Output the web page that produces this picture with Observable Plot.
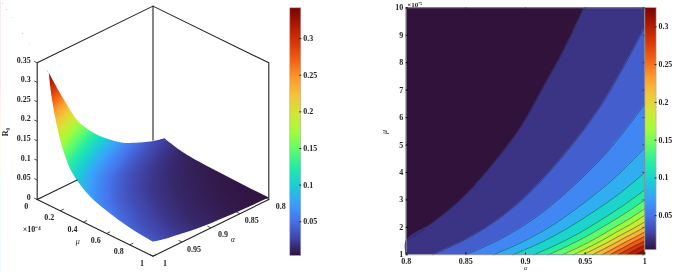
<!DOCTYPE html>
<html>
<head>
<meta charset="utf-8">
<script src="https://cdn.jsdelivr.net/npm/d3@7"></script>
<script src="https://cdn.jsdelivr.net/npm/@observablehq/plot@0.6"></script>
<style>
html,body{margin:0;padding:0;background:#fff}
#chart{position:relative;width:685px;height:272px;overflow:hidden;filter:blur(0.35px)}
</style>
</head>
<body>
<div id="chart"></div>
<script>
// ---------- colours ----------
const turboStops = ["#30123b","#4145ab","#4675ed","#39a2fc","#1bcfd4","#24eca6","#61fc6c","#a4fc3b","#d1e834","#f3c63a","#fe9b2d","#f36315","#d93806","#b11901","#7a0403"];

// ---------- left panel: surface ----------
const surfaceAlpha = [0.8, 0.825, 0.85, 0.875, 0.9, 0.925, 0.95, 0.975, 1];
const surfaceMu = [0.1, 0.125, 0.15, 0.175, 0.2, 0.25, 0.3, 0.4, 0.5, 0.6, 0.7, 0.8, 0.9, 1];
const surfaceR = [
  [.0265,.036,.051,.07,.098,.133,.18,.255,.339],
  [.0232,.0311,.0434,.0588,.0818,.110,.150,.21,.28],
  [.021,.028,.038,.051,.071,.095,.129,.18,.24],
  [.019,.0246,.0335,.0449,.0615,.0828,.112,.155,.207],
  [.017,.022,.030,.040,.054,.072,.098,.135,.18],
  [.014,.018,.024,.032,.042,.057,.076,.105,.14],
  [.012,.015,.020,.026,.034,.046,.062,.085,.113],
  [.0094,.0117,.0153,.0199,.0262,.0352,.0471,.0638,.085],
  [.008,.0098,.0126,.0163,.0211,.0284,.0379,.051,.068],
  [.007,.0086,.011,.0141,.0182,.0244,.0325,.0435,.058],
  [.0063,.0076,.0096,.0123,.0158,.0212,.0282,.0375,.05],
  [.0056,.0068,.0086,.0109,.0139,.0187,.0249,.033,.044],
  [.0052,.0063,.0079,.01,.0128,.0171,.0227,.03,.04],
  [.005,.006,.0075,.0095,.012,.016,.0215,.028,.0375]
];
const zTicks = [0, .05, .1, .15, .2, .25, .3, .35];
const muTicks3d = [0, .2, .4, .6, .8, 1];
const alphaTicks3d = [.8, .85, .9, .95, 1];
const zMax = 0.35;
const leftColorDomain = [.004, .342];
const colorbarTicks = [.05, .1, .15, .2, .25, .3];

// ---------- right panel: contour lines (alpha, mu x 1e-5) ----------
const contours = {
  0.005: [[.8,1,],[.8,10]],
  0.02: [[.8,1],[.8,1.5],[.823,2.19],[.848,3.1],[.873,4.32],[.896,5.65],[.915,7.11],[.932,8.45],[.949,10]],
  0.04: [[.822,1],[.8576,1.75],[.8932,2.85],[.9288,4.46],[.9644,6.51],[1,9.3]],
  0.06: [[.85,1],[.88,1.6],[.91,2.41],[.94,3.5],[.97,4.82],[1,6.5]],
  0.08: [[.873,1],[.8984,1.49],[.9238,2.11],[.9492,2.9],[.9746,3.8],[1,4.9]],
  0.10: [[.889,1],[.9112,1.41],[.9334,1.92],[.9556,2.53],[.9778,3.2],[1,4]],
  0.12: [[.907,1],[.9256,1.36],[.9442,1.77],[.9628,2.26],[.9814,2.78],[1,3.37]],
  0.14: [[.919,1],[.9352,1.32],[.9514,1.68],[.9676,2.09],[.9838,2.52],[1,3]],
  0.16: [[.931,1],[.9448,1.28],[.9586,1.59],[.9724,1.94],[.9862,2.29],[1,2.68]],
  0.18: [[.94,1],[.952,1.25],[.964,1.52],[.976,1.82],[.988,2.11],[1,2.44]],
  0.20: [[.948,1],[.9584,1.22],[.9688,1.45],[.9792,1.7],[.9896,1.94],[1,2.2]],
  0.22: [[.956,1],[.9648,1.19],[.9736,1.39],[.9824,1.6],[.9912,1.8],[1,2.01]],
  0.24: [[.964,1],[.9712,1.16],[.9784,1.33],[.9856,1.5],[.9928,1.66],[1,1.83]],
  0.26: [[.971,1],[.9768,1.14],[.9826,1.27],[.9884,1.41],[.9942,1.54],[1,1.67]],
  0.28: [[.978,1],[.9824,1.11],[.9868,1.21],[.9912,1.31],[.9956,1.4],[1,1.5]],
  0.30: [[.985,1],[.988,1.07],[.991,1.15],[.994,1.22],[.997,1.28],[1,1.34]],
  0.32: [[.993,1],[.9944,1.04],[.9958,1.07],[.9972,1.1],[.9986,1.12],[1,1.15]]
};
const xTicks2d = [.8, .85, .9, .95, 1];
const yTicks2d = [1, 2, 3, 4, 5, 6, 7, 8, 9, 10];
const rightColorDomain = [.005, .3255];

// ---------- shared ----------
const font = {fontFamily: "'Liberation Serif', serif", fontWeight: "bold", fontSize: "8px"};
const turbo = d3.piecewise(d3.interpolateRgb, turboStops);
const base = (w, h) => ({width: w, height: h, style: {...font, background: "none", position: "absolute", left: "0", top: "0", overflow: "visible"}});
const root = document.getElementById("chart");
const ink = "#222";

// ---------- projection of the box: u = mu (1e-4), v = (1-alpha)/0.2, w = R/zMax ----------
const P = (u, v, w) => ({x: u + v, y: w - 0.4146 * (u - v)});
const V = (alpha) => (1 - alpha) / 0.2;
const surfaceRows = surfaceMu.flatMap((m, i) => surfaceAlpha.map((a, j) => ({...P(m, V(a), surfaceR[i][j] / zMax), R: surfaceR[i][j]})));
const pt = (i, j) => P(surfaceMu[i], V(surfaceAlpha[j]), surfaceR[i][j] / zMax);
const nA = surfaceAlpha.length, nM = surfaceMu.length;
const corners = [{x: -.32, y: 1.46}, {x: 2.2, y: 1.46}, {x: 2.2, y: -.54}, {x: -.32, y: -.54}];
const outer = [...corners, corners[0]].flatMap(c => [c, c]);
const edgeB = surfaceMu.map((_, i) => pt(i, nA - 1));
const edgeC = surfaceAlpha.map((_, j) => pt(nM - 1, nA - 1 - j));
const edgeD = surfaceMu.map((_, i) => pt(nM - 1 - i, 0));
const edgeA = surfaceAlpha.map((_, j) => pt(0, j));
const maskRing = [...outer, edgeB[0], ...edgeB, ...edgeC, ...edgeD, ...edgeA, edgeB[0], corners[0], corners[0]];

const boxSegments = [
  [[0,0,0],[0,0,1],[0,1,1],[1,1,1],[1,1,0]],
  [[0,1,1],[0,1,.02]],
  [[0,0,0],[1,0,0],[1,1,0]],
  [[0,0,0],[0,.345,0]]
];
const boxRows = boxSegments.flatMap((s, k) => s.map(p => ({...P(...p), k})));
const tickRows = [
  ...zTicks.map((z, k) => [P(0, 0, z / zMax), P(-.025, 0, z / zMax), "z" + k]),
  ...muTicks3d.map((m, k) => [P(m, 0, 0), P(m, .03, 0), "m" + k]),
  ...alphaTicks3d.map((a, k) => [P(1, V(a), 0), P(.97, V(a), 0), "a" + k])
].map(([a, b]) => ({x1: a.x, y1: a.y, x2: b.x, y2: b.y}));
const tx = {fontSize: 8, fontFamily: font.fontFamily, fontWeight: "bold", fill: "#222"};

root.append(Plot.plot({
  ...base(290, 272),
  marginLeft: 0, marginRight: 0, marginTop: 0, marginBottom: 0,
  x: {domain: [0, 2], range: [36.7, 268.3], axis: null},
  y: {domain: [0, 1], range: [199, 62.3], axis: null},
  color: {type: "linear", domain: leftColorDomain, interpolate: turbo},
  marks: [
    Plot.raster(surfaceRows, {x: "x", y: "y", fill: "R", interpolate: "barycentric", pixelSize: 1}),
    Plot.line(maskRing, {x: "x", y: "y", fill: "white", stroke: "none", curve: "catmull-rom"}),
    Plot.line(boxRows, {x: "x", y: "y", z: "k", stroke: ink, strokeWidth: 1.1, strokeLinejoin: "miter"}),
    Plot.link(tickRows, {x1: "x1", y1: "y1", x2: "x2", y2: "y2", stroke: ink, strokeWidth: .8}),
    Plot.text(zTicks.map(z => ({...P(0, 0, z / zMax), t: String(z)})), {x: "x", y: "y", text: "t", textAnchor: "end", dx: -6.5, dy: -2.5, ...tx}),
    Plot.text(muTicks3d.map(m => ({...P(m, 0, 0), t: String(m)})), {x: "x", y: "y", text: "t", dx: -11, dy: 7, ...tx}),
    Plot.text(alphaTicks3d.map(a => ({...P(1, V(a), 0), t: String(a)})), {x: "x", y: "y", text: "t", dx: 12, dy: 7, ...tx}),
    Plot.text([{...P(0, .0, 2.44 / 3.5), t: "R\u2080"}], {x: "x", y: "y", text: "t", rotate: -90, dx: -31.5, dy: 28, ...tx}),
    Plot.text([{...P(.35, 0, 0), t: "\u00d710\u207b\u2074"}], {x: "x", y: "y", text: "t", dx: -46, dy: 10, ...tx}),
    Plot.text([{...P(.35, 0, 0), t: "\u03bc"}], {x: "x", y: "y", text: "t", dx: 0, dy: 22, ...tx, fontStyle: "italic", fontWeight: "normal"}),
    Plot.text([{...P(1, V(.9), 0), t: "\u03b1"}], {x: "x", y: "y", text: "t", dx: 22, dy: 12, ...tx, fontStyle: "italic", fontWeight: "normal"})
  ]
}));

// ---------- colour bars ----------
function colorbar(x1, x2, y1, y2, domain) {
  return Plot.plot({
    ...base(x2 + 30, 272),
    marginLeft: x1, marginRight: 30, marginTop: y1, marginBottom: 272 - y2,
    x: {domain: [0, 1], axis: null},
    y: {domain, axis: null},
    color: {type: "linear", domain, interpolate: turbo},
    marks: [
      Plot.raster({fill: (x, y) => y, x1: 0, x2: 1, y1: domain[0], y2: domain[1], pixelSize: 1}),
      Plot.frame({stroke: "#aaa", strokeWidth: .6}),
      Plot.axisY(colorbarTicks, {anchor: "right", tickSize: -2, tickPadding: 4.5, tickFormat: d => String(d), label: null, stroke: ink, fill: "#222", ...tx})
    ]
  });
}
root.append(colorbar(289.3, 300.3, 7.3, 255, leftColorDomain));
root.append(colorbar(657.3, 669, 7.3, 254.3, rightColorDomain));

// ---------- right panel ----------
const levels = Object.keys(contours).map(Number).sort((a, b) => a - b);
const rows = levels.flatMap(level => contours[level].map(([alpha, mu]) => ({level, alpha, mu})));
root.append(Plot.plot({
  ...base(685, 272),
  marginLeft: 405.7, marginRight: 40.7, marginTop: 7.3, marginBottom: 17.7,
  x: {domain: [.8, 1], axis: null},
  y: {domain: [1, 10], axis: null},
  color: {type: "linear", domain: rightColorDomain, interpolate: turbo},
  marks: [
    Plot.areaX(rows, {y: "mu", x1: "alpha", x2: () => 1, z: "level", fill: "level", curve: "catmull-rom"}),
    Plot.line(rows.filter(d => d.level > .005 && !(d.level === .02 && d.mu === 1)), {x: "alpha", y: "mu", z: "level", stroke: "#1d1d2a", strokeWidth: .45, curve: "catmull-rom"}),
    Plot.frame({stroke: "#999", strokeWidth: .8}),
    Plot.axisX(xTicks2d, {anchor: "bottom", tickSize: -2, tickPadding: 5.5, tickFormat: d => String(d), label: null, ...tx}),
    Plot.axisY(yTicks2d, {anchor: "left", tickSize: -2, tickPadding: 5, tickFormat: d => String(d), label: null, ...tx}),
    Plot.tickX(xTicks2d, {insetBottom: 245, stroke: ink, strokeWidth: .6}),
    Plot.tickY(yTicks2d, {insetLeft: 236.6, stroke: ink, strokeWidth: .6}),
    Plot.text([{a: .8, m: 10, t: "\u00d710\u207b\u2075"}], {x: "a", y: "m", text: "t", textAnchor: "start", dx: 1, dy: -3, ...tx, fontSize: 7}),
    Plot.text([{a: .8, m: 5.47, t: "\u03bc"}], {x: "a", y: "m", text: "t", rotate: -90, dx: -21.7, ...tx, fontStyle: "italic", fontWeight: "normal"}),
    Plot.text([{a: .9, m: 1, t: "\u03b1"}], {x: "a", y: "m", text: "t", dy: 13.5, ...tx, fontSize: 6.5, fontStyle: "italic", fontWeight: "normal"})
  ]
}));
</script>
</body>
</html>
